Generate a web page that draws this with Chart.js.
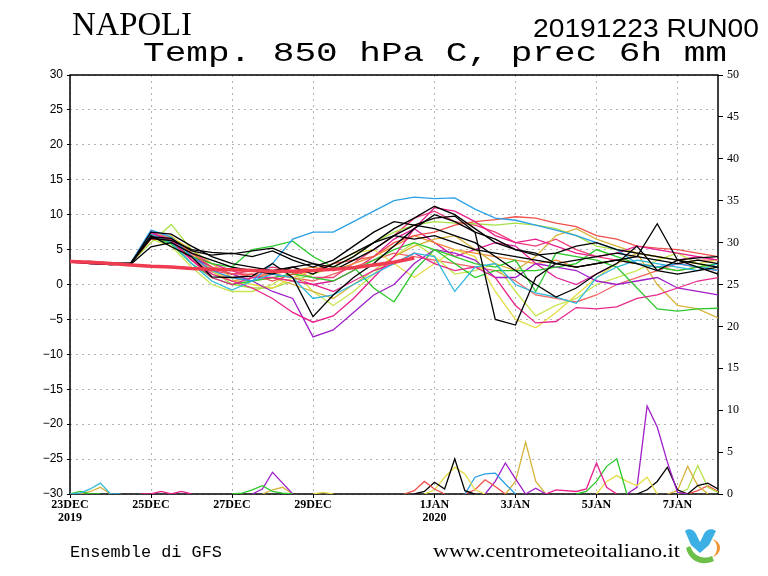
<!DOCTYPE html>
<html>
<head>
<meta charset="utf-8">
<title>Napoli - Temp 850 hPa</title>
<style>
body {
	margin: 0;
	padding: 0;
	background-color: #fff;
}
#wrap {
	position: relative;
	width: 768px;
	height: 576px;
}
#wrap canvas, #wrap svg {
	position: absolute;
	left: 0;
	top: 0;
}
</style>
<script src="https://cdn.jsdelivr.net/npm/chart.js@4.4.0/dist/chart.umd.min.js"></script>
</head>
<body>
<div id="wrap">
	<canvas id="ens" width="768" height="576"></canvas>
	<svg width="768" height="576">
		<text x="72" y="35" font-family="Liberation Serif" font-size="33" textLength="120" lengthAdjust="spacingAndGlyphs">NAPOLI</text>
		<text x="533" y="37" font-family="Liberation Sans" font-size="25" textLength="226" lengthAdjust="spacingAndGlyphs">20191223 RUN00</text>
		<text x="143" y="61" font-family="Liberation Mono" font-size="27" textLength="584" lengthAdjust="spacingAndGlyphs">Temp. 850 hPa C, prec 6h mm</text>
		<text x="70" y="557" font-family="Liberation Mono" font-size="17" textLength="152" lengthAdjust="spacingAndGlyphs">Ensemble di GFS</text>
		<text x="433" y="557" font-family="Liberation Serif" font-size="19" textLength="247" lengthAdjust="spacingAndGlyphs">www.centrometeoitaliano.it</text>
		<!-- logo -->
		<path d="M685,531 C689,527 695,530 697,536 L700,542 L703,536 C705,530 711,527 716,531 L709,545 L700,553 L691,545 Z" fill="#3cb0e4"/>
		<path d="M711,539 A9,9 0 1 1 711,557 A6,9 0 0 0 711,539 Z" fill="#f0922e"/>
		<path d="M686,548 C689,560 700,567 714,561 L712,556 C702,560 694,556 690,546 Z" fill="#6cc04a"/>
	</svg>
</div>
<script>
// time axis in forecast hours, 12h for temperature
var tempHours = [0,12,24,36,48,60,72,84,96,108,120,132,144,156,168,180,192,204,216,228,240,252,264,276,288,300,312,324,336,348,360,372,384];
var tickHours = [0,48,96,144,216,264,312,360];
var tickLabels = [['23DEC','2019'],'25DEC','27DEC','29DEC',['1JAN','2020'],'3JAN','5JAN','7JAN'];

// ensemble members, T850 (C)
var m01 = [3.3,3.0,2.9,3.0,6.6,6.3,5.0,4.6,4.4,4.8,5.2,4.0,3.0,2.5,4.0,6.0,8.0,9.5,11.2,10.0,8.0,6.0,5.0,4.2,4.5,5.5,6.0,5.0,4.5,4.0,3.5,3.8,4.0];
var m02 = [3.4,3.1,3.0,3.0,7.0,5.4,4.0,1.1,1.0,1.2,3.0,1.0,-4.6,-1.5,1.0,3.0,5.5,8.0,10.0,9.0,7.5,6.5,5.0,4.5,3.0,2.5,3.0,3.5,3.0,2.0,1.5,2.0,2.5];
var m03 = [3.2,3.3,3.1,2.9,5.4,6.0,4.5,3.5,2.5,2.0,1.5,2.5,3.0,2.0,3.5,5.0,7.0,8.5,9.5,9.8,7.5,-5.0,-5.8,1.0,3.0,3.5,4.0,4.5,4.0,3.5,3.0,3.5,3.0];
var m04 = [3.3,3.2,2.8,3.0,7.5,7.2,5.5,4.0,3.0,2.5,2.0,2.5,1.5,3.0,4.5,6.0,7.0,6.5,7.0,6.0,5.0,4.5,4.0,3.5,3.0,2.5,3.0,3.5,4.0,8.7,3.5,2.5,1.5];
var m05 = [3.3,3.1,3.0,3.1,6.8,6.6,4.8,4.2,4.5,4.0,4.8,3.5,2.5,3.5,5.5,7.5,9.0,8.5,8.0,7.0,6.0,4.0,2.0,0.0,-1.8,-0.5,1.5,3.0,5.5,2.0,3.5,3.0,2.5];
var m06 = [3.3,3.2,3.0,3.1,7.8,6.8,4.0,2.0,1.0,0.5,3.0,6.5,7.5,7.5,9.0,10.5,12.0,12.5,12.3,12.4,10.8,9.5,9.2,8.5,7.8,7.0,6.0,5.0,3.0,2.5,3.0,2.5,2.0];
var m07 = [3.3,3.2,3.0,2.9,7.2,6.0,3.0,0.5,-0.8,0.5,1.5,1.0,-2.0,-1.5,0.0,1.5,3.0,4.5,4.0,-1.0,2.5,3.0,0.0,-1.2,-1.8,-2.7,1.0,2.5,3.5,3.0,2.5,2.0,3.0];
var m08 = [3.2,3.0,2.9,3.0,7.3,6.5,3.5,1.5,0.5,-0.5,-2.0,-4.0,-5.4,-4.5,-2.0,1.0,4.0,8.0,11.0,10.5,9.0,7.0,6.0,6.5,5.5,4.5,4.0,4.5,5.5,5.0,4.5,4.0,3.5];
var m09 = [3.3,3.1,3.0,3.0,7.0,6.2,3.5,1.0,0.0,1.0,1.0,0.5,0.0,-1.0,0.5,2.0,3.0,4.5,3.0,2.0,2.5,1.0,-3.0,-5.5,-5.3,-3.3,-3.5,-3.2,-2.0,-1.5,-0.5,0.5,1.0];
var m10 = [3.4,3.2,3.0,3.1,6.5,6.4,4.5,2.5,1.5,1.5,0.5,1.5,2.0,3.0,3.5,4.0,6.0,7.0,7.5,8.5,9.0,9.3,9.7,9.5,8.8,8.3,7.0,6.5,5.5,5.2,5.0,4.5,4.0];
var m11 = [3.3,3.2,3.0,3.0,7.0,6.0,4.0,3.0,2.5,5.0,5.5,6.2,4.0,2.5,2.5,-0.5,-2.5,2.0,5.0,3.0,1.0,2.0,2.0,2.0,2.5,3.0,5.0,4.0,3.0,2.5,2.0,2.5,3.0];
var m12 = [3.3,3.1,3.0,3.0,6.8,5.8,3.0,1.0,0.0,0.5,1.0,1.5,1.0,0.5,2.0,3.5,5.0,6.0,5.0,4.0,3.0,2.5,3.5,-1.0,4.5,4.0,3.5,2.5,-0.5,-3.5,-3.8,-3.5,-3.4];
var m13 = [3.2,3.0,2.9,3.0,7.5,6.0,4.0,2.5,1.5,0.5,-1.0,-2.0,-7.5,-6.5,-4.0,-1.5,0.0,3.0,5.0,4.5,3.5,1.0,1.0,3.0,2.5,2.0,0.5,0.0,0.5,1.0,-0.5,-1.0,-1.5];
var m14 = [3.3,3.2,3.0,3.0,6.8,7.0,4.5,2.0,0.5,0.0,-0.5,1.0,2.0,3.0,4.5,5.0,3.0,1.0,3.0,5.0,4.0,-1.0,-5.0,-6.2,-4.0,-1.5,1.0,3.0,4.5,4.0,3.5,3.0,3.5];
var m15 = [3.4,3.2,3.0,3.0,6.5,6.8,5.0,3.0,1.0,0.5,1.0,0.0,-1.0,-2.0,0.0,2.0,4.0,5.5,6.5,7.0,5.0,3.0,2.0,4.0,7.0,8.0,6.5,5.5,4.5,0.0,-3.0,-3.5,-4.8];
var m16 = [3.3,3.2,3.0,3.1,6.0,8.6,5.0,2.0,0.0,-0.5,-0.5,0.5,1.5,2.5,4.0,6.0,7.5,8.5,9.0,8.8,8.7,8.5,8.8,8.5,8.0,7.0,5.5,5.0,4.5,4.0,3.5,3.0,2.5];
var m17 = [3.3,3.1,3.0,3.0,6.9,6.0,3.5,1.5,0.5,1.0,1.5,2.0,2.5,2.0,3.0,4.0,5.5,7.0,6.0,5.0,4.5,4.0,3.5,3.0,3.5,2.5,3.0,3.5,3.0,2.5,2.0,2.5,2.0];
var m18 = [3.3,3.2,3.0,3.0,7.6,6.6,4.2,2.0,1.5,2.0,2.5,2.0,1.0,1.0,3.0,5.0,7.0,9.5,10.5,9.0,8.5,7.5,6.0,5.5,6.5,5.0,4.0,3.5,3.0,2.5,3.0,2.5,2.0];
var m19 = [3.2,3.0,2.9,3.0,6.5,5.5,2.5,0.0,-1.0,-1.0,0.0,2.0,-1.0,-3.0,-1.0,1.5,4.0,6.0,4.0,1.5,2.0,3.0,-1.0,-4.5,-3.0,-2.0,0.0,1.0,2.0,3.5,4.5,3.0,2.0];
var m20 = [3.3,3.1,3.0,3.0,7.0,6.3,3.8,1.8,1.0,1.5,1.5,1.0,0.5,1.5,2.5,3.5,4.5,4.0,3.5,3.0,2.5,2.0,0.5,-1.5,-2.0,-2.5,-1.5,0.0,1.0,2.0,3.0,3.5,3.5];
var m21 = [3.3,3.2,3.0,3.0,7.2,6.5,4.5,3.0,2.0,1.0,1.5,1.0,0.0,0.5,2.0,4.0,6.5,8.0,6.0,4.0,5.0,6.0,5.5,3.0,1.0,0.0,1.5,3.0,4.5,4.0,3.5,4.0,3.5];

var members = [m01,m02,m03,m04,m05,m06,m07,m08,m09,m10,m11,m12,m13,m14,m15,m16,m17,m18,m19,m20,m21];
var memberColors = ['#000','#000','#000','#000','#000','#2aa0e6','#30b8dc','#e81e8c','#e6288c','#f0504a','#28c828','#30c830','#a01ec8','#e6dc46','#d7b43c','#a8e046','#f08c3c','#f03c78','#c8e650','#f06464','#dc1e96'];

// thick red line (first 204h)
var redLine = [3.3,3.2,3.0,2.8,2.6,2.5,2.3,2.2,2.1,2.0,1.9,1.9,2.0,2.2,2.4,2.8,3.2,3.8];

// precipitation 6h (mm), hours + values
var pCyan1H = [0,6,12,18,24,30];           var pCyan1V = [0,0.1,0.6,1.3,0,0];
var pGreen1H = [0,6,12,18];                var pGreen1V = [0,0.3,0,0];
var pYel1H = [6,12,18,24];                 var pYel1V = [0,0.3,0.8,0];
var pPink1H = [42,48,54,60,66,72];         var pPink1V = [0,0,0.3,0,0.3,0];
var pGreen2H = [96,102,108,114,120,126,132]; var pGreen2V = [0,0.1,0.5,1.0,0.3,0.1,0];
var pPurp1H = [108,114,120,126,132];       var pPurp1V = [0,0.6,2.6,1.3,0];
var pKhak1H = [114,120,126,132];           var pKhak1V = [0,0.5,0.8,0];
var pYel2H = [144,150,156];                var pYel2V = [0,0.2,0];
var pRed1H = [198,204,210,216,222];        var pRed1V = [0,0.4,1.5,0.6,0];
var pBlk1H = [204,210,216,222,228,234,240]; var pBlk1V = [0,0.3,1.4,0.6,4.2,0.4,0];
var pYel3H = [210,216,222,228,234,240,246]; var pYel3V = [0,0.5,2.0,3.2,2.4,0.5,0];
var pBlueH = [234,240,246,252,258,264];    var pBlueV = [0,2.0,2.4,2.5,1.2,0];
var pRed2H = [234,240,246,252,258];        var pRed2V = [0,0.5,1.7,0.9,0];
var pPurp2H = [246,252,258,264,270,276,282]; var pPurp2V = [0,1.5,3.7,1.8,0,0.7,0];
var pKhak2H = [258,264,270,276,282];       var pKhak2V = [0,1.5,6.2,1.5,0];
var pMagH = [282,288,300,306,312,318,324]; var pMagV = [0,0.5,0.3,0.6,3.7,0.8,0];
var pGreen3H = [300,306,312,318,324,330];  var pGreen3V = [0,0.3,1.5,3.3,4.2,0];
var pYel4H = [312,318,324,330,336,342,348]; var pYel4V = [0,1.5,2.2,1.5,1.0,2.0,0];
var pPurp3H = [330,336,342,348,354,360,366]; var pPurp3V = [0,0.8,10.5,8.0,3.8,0.2,0];
var pBlk2H = [336,342,348,354,360,366,372,378,384]; var pBlk2V = [0,0.5,1.5,3.2,0.5,0,1.0,1.3,0.6];
var pKhak3H = [354,360,366,372,378];       var pKhak3V = [0,0.4,3.3,1.0,0];
var pLimeH = [360,366,372,378,384];        var pLimeV = [0,0.6,3.4,0.8,0.2];
var pRed3H = [366,372,378,384];            var pRed3V = [0,0.4,1.0,0.3];

var precip = [
	[pCyan1H, pCyan1V, '#30b8dc'], [pGreen1H, pGreen1V, '#28c828'], [pYel1H, pYel1V, '#d7b43c'],
	[pPink1H, pPink1V, '#e81e8c'], [pGreen2H, pGreen2V, '#28c828'], [pPurp1H, pPurp1V, '#a01ec8'],
	[pKhak1H, pKhak1V, '#d7b43c'], [pYel2H, pYel2V, '#e6dc46'], [pRed1H, pRed1V, '#f0504a'],
	[pBlk1H, pBlk1V, '#000'], [pYel3H, pYel3V, '#e6dc46'], [pBlueH, pBlueV, '#2aa0e6'],
	[pRed2H, pRed2V, '#f0504a'], [pPurp2H, pPurp2V, '#a01ec8'], [pKhak2H, pKhak2V, '#d7b43c'],
	[pMagH, pMagV, '#e81e8c'], [pGreen3H, pGreen3V, '#28c828'], [pYel4H, pYel4V, '#e6dc46'],
	[pPurp3H, pPurp3V, '#a01ec8'], [pBlk2H, pBlk2V, '#000'], [pKhak3H, pKhak3V, '#d7b43c'],
	[pLimeH, pLimeV, '#b4e046'], [pRed3H, pRed3V, '#f0504a']
];

function pts(hours, vals) {
	return vals.map(function (v, i) { return {x: hours[i], y: v}; });
}

var datasets = [];
datasets.push({
	data: pts(tempHours, redLine),
	borderColor: '#f03c50',
	borderWidth: 3.5,
	yAxisID: 'y',
	order: 0
});
members.forEach(function (m, i) {
	datasets.push({
		data: pts(tempHours, m),
		borderColor: memberColors[i],
		borderWidth: 1.3,
		yAxisID: 'y',
		order: 1
	});
});
precip.forEach(function (p) {
	datasets.push({
		data: pts(p[0], p[1]),
		borderColor: p[2],
		borderWidth: 1.3,
		yAxisID: 'y2',
		order: 2
	});
});

var frame = {
	id: 'frame',
	beforeDatasetsDraw: function (chart) {
		var a = chart.chartArea, ctx = chart.ctx;
		ctx.save();
		ctx.strokeStyle = '#000';
		ctx.lineWidth = 1.5;
		ctx.strokeRect(a.left, a.top, a.right - a.left, a.bottom - a.top);
		ctx.restore();
	}
};

new Chart(document.getElementById('ens'), {
	type: 'line',
	data: {datasets: datasets},
	options: {
		responsive: false,
		animation: false,
		events: [],
		layout: {padding: {left: 0, right: 0, top: 75, bottom: 42}},
		elements: {
			point: {radius: 0},
			line: {tension: 0, fill: false}
		},
		plugins: {
			legend: {display: false},
			tooltip: {enabled: false}
		},
		scales: {
			x: {
				type: 'linear',
				min: 0,
				max: 384,
				afterBuildTicks: function (s) {
					s.ticks = tickHours.map(function (h) { return {value: h}; });
				},
				afterFit: function (s) { s.height = 40; },
				ticks: {
					autoSkip: false,
					maxRotation: 0,
					padding: 1,
					color: '#000',
					font: {family: 'Liberation Serif', size: 12, weight: 'bold', lineHeight: 1.05},
					callback: function (v, i) { return tickLabels[i]; }
				},
				grid: {
					color: '#b4b4b4',
					tickColor: '#000',
					tickLength: 4
				},
				border: {display: false, dash: [2, 4]}
			},
			y: {
				position: 'left',
				min: -30,
				max: 30,
				ticks: {
					stepSize: 5,
					padding: 4,
					color: '#000',
					font: {family: 'Liberation Sans', size: 12},
					callback: function (v) { return v < 0 ? '\u2212' + Math.abs(v) : v; }
				},
				afterFit: function (s) { s.width = 70; },
				grid: {
					color: '#b4b4b4',
					tickColor: '#000',
					tickLength: 3
				},
				border: {display: false, dash: [2, 4]}
			},
			y2: {
				position: 'right',
				min: 0,
				max: 50,
				ticks: {
					stepSize: 5,
					padding: 4,
					color: '#000',
					font: {family: 'Liberation Serif', size: 12}
				},
				afterFit: function (s) { s.width = 50; },
				grid: {
					drawOnChartArea: false,
					tickColor: '#000',
					tickLength: 5
				},
				border: {display: false}
			}
		}
	},
	plugins: [frame]
});
</script>
</body>
</html>
